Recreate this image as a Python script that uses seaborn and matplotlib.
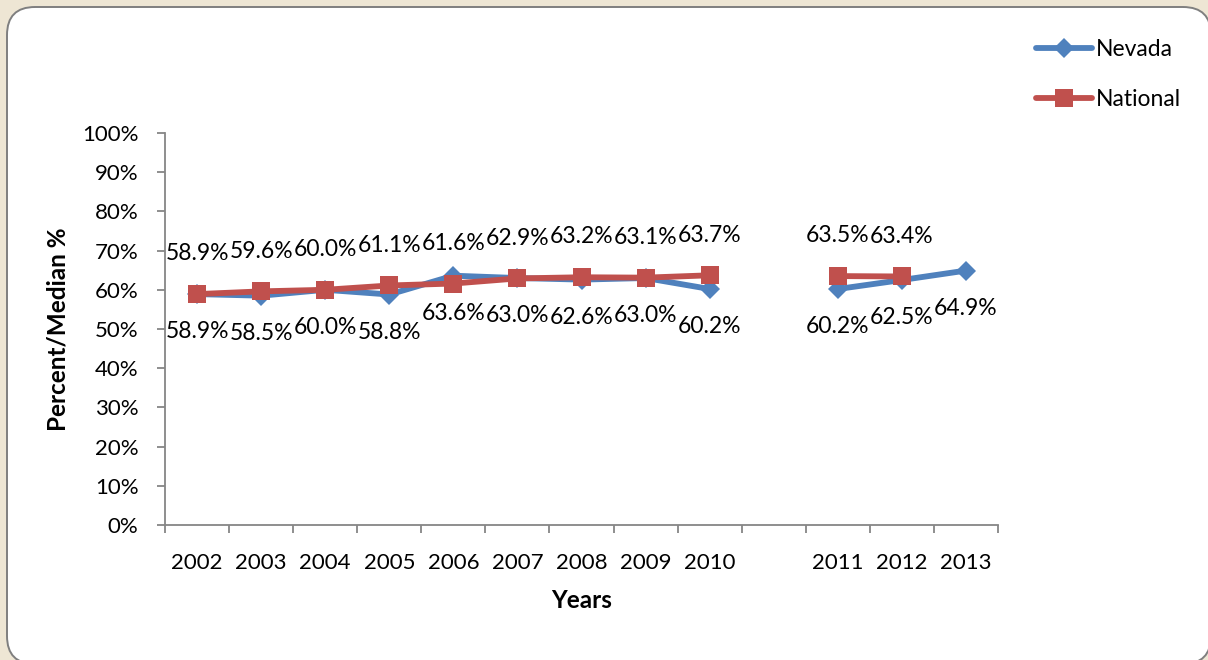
import numpy as np
import pandas as pd
import matplotlib
matplotlib.use("Agg")
import matplotlib.pyplot as plt
import seaborn as sns
from matplotlib.patches import FancyBboxPatch
from matplotlib.lines import Line2D
from matplotlib.transforms import IdentityTransform

# Category axis (one blank slot between 2010 and 2011)
years = ["2002", "2003", "2004", "2005", "2006", "2007", "2008", "2009", "2010",
         "", "2011", "2012", "2013"]
nevada = [58.9, 58.5, 60.0, 58.8, 63.6, 63.0, 62.6, 63.0, 60.2,
          np.nan, 60.2, 62.5, 64.9]
national = [58.9, 59.6, 60.0, 61.1, 61.6, 62.9, 63.2, 63.1, 63.7,
            np.nan, 63.5, 63.4, np.nan]
y_ticks = [0, 10, 20, 30, 40, 50, 60, 70, 80, 90, 100]

BLUE = "#4F81BD"
RED = "#C0504D"
AXIS_GREY = "#868686"
FONT = ["Lato", "DejaVu Sans"]

sns.set_style("white")
plt.rcParams["font.family"] = FONT
plt.rcParams["text.color"] = "black"
plt.rcParams["xtick.color"] = "black"
plt.rcParams["ytick.color"] = "black"
plt.rcParams["axes.labelcolor"] = "black"

W, H, DPI = 1208, 660, 100
fig = plt.figure(figsize=(W / DPI, H / DPI), dpi=DPI)
fig.patch.set_facecolor("#eee6d4")

# white rounded panel behind the chart
panel = FancyBboxPatch((7, -4), 1204, 657,
                       boxstyle="round,pad=0,rounding_size=28",
                       transform=IdentityTransform(),
                       facecolor="white", edgecolor="#7f7f7f", linewidth=1.4,
                       zorder=-10)
fig.patches.append(panel)

ax = fig.add_axes([165 / W, 1 - 525 / H, (998 - 165) / W, (525 - 133) / H])
ax.set_facecolor("none")
ax.set_zorder(1)


def to_frame(values, name):
    """Long-form frame; each unbroken run of values gets its own segment id."""
    rows, seg = [], 0
    for i, v in enumerate(values):
        if np.isnan(v):
            seg += 1
            continue
        rows.append({"pos": i, "value": v, "series": name, "segment": seg})
    return pd.DataFrame(rows)


df_nv = to_frame(nevada, "Nevada")
df_us = to_frame(national, "National")

sns.lineplot(data=df_nv, x="pos", y="value", units="segment", estimator=None,
             color=BLUE, linewidth=4.2, marker="D", markersize=10,
             markeredgewidth=0, ax=ax, legend=False, zorder=3)
sns.lineplot(data=df_us, x="pos", y="value", units="segment", estimator=None,
             color=RED, linewidth=4.2, marker="s", markersize=13.5,
             markeredgewidth=0, ax=ax, legend=False, zorder=4)

# value labels: national above, Nevada below
for i, v in enumerate(national):
    if not np.isnan(v):
        ax.annotate(f"{v:.1f}%", (i, v), xytext=(0, 29), textcoords="offset points",
                    ha="center", va="center", fontsize=16.5, color="black", zorder=5)
for i, v in enumerate(nevada):
    if not np.isnan(v):
        ax.annotate(f"{v:.1f}%", (i, v), xytext=(0, -27), textcoords="offset points",
                    ha="center", va="center", fontsize=16.5, color="black", zorder=5)

ax.set_xlim(-0.5, len(years) - 0.5)
ax.set_ylim(0, 100)

# category boundaries carry tick marks, centres carry labels
ax.set_xticks(np.arange(-0.5, len(years) + 0.5, 1.0))
ax.set_xticklabels([])
ax.set_xticks(np.arange(len(years)), minor=True)
ax.set_xticklabels(years, minor=True, fontsize=16)
ax.tick_params(axis="x", which="major", bottom=True, direction="out", length=6,
               width=1.3, color=AXIS_GREY)
ax.tick_params(axis="x", which="minor", bottom=True, length=0, pad=20)

ax.set_yticks(y_ticks)
ax.set_yticklabels([f"{t}%" for t in y_ticks], fontsize=16)
ax.tick_params(axis="y", left=True, direction="out", length=6, width=1.3,
               color=AXIS_GREY, pad=13)

for side in ["top", "right"]:
    ax.spines[side].set_visible(False)
for side in ["left", "bottom"]:
    ax.spines[side].set_color(AXIS_GREY)
    ax.spines[side].set_linewidth(1.3)
ax.grid(False)

ax.set_xlabel("Years", fontsize=17.5, fontweight="bold")
ax.xaxis.label.set_va("center")
ax.xaxis.set_label_coords(0.5, (525 - 601) / (525 - 133))
ax.set_ylabel("Percent/Median %", fontsize=17.5, fontweight="bold")
ax.yaxis.label.set_va("center")
ax.yaxis.set_label_coords((58 - 165) / (998 - 165), 0.5)

handles = [
    Line2D([], [], color=BLUE, linewidth=4.2, marker="D", markersize=10,
           markeredgewidth=0),
    Line2D([], [], color=RED, linewidth=4.2, marker="s", markersize=13.5,
           markeredgewidth=0),
]
fig.legend(handles, ["Nevada", "National"], loc="upper left",
           bbox_to_anchor=(1036 / W, 1 - 39 / H), frameon=False, fontsize=16.5,
           handlelength=2.45, handletextpad=0.15, labelspacing=1.25,
           borderpad=0, borderaxespad=0)

fig.savefig("out.png", dpi=DPI, facecolor=fig.get_facecolor())
